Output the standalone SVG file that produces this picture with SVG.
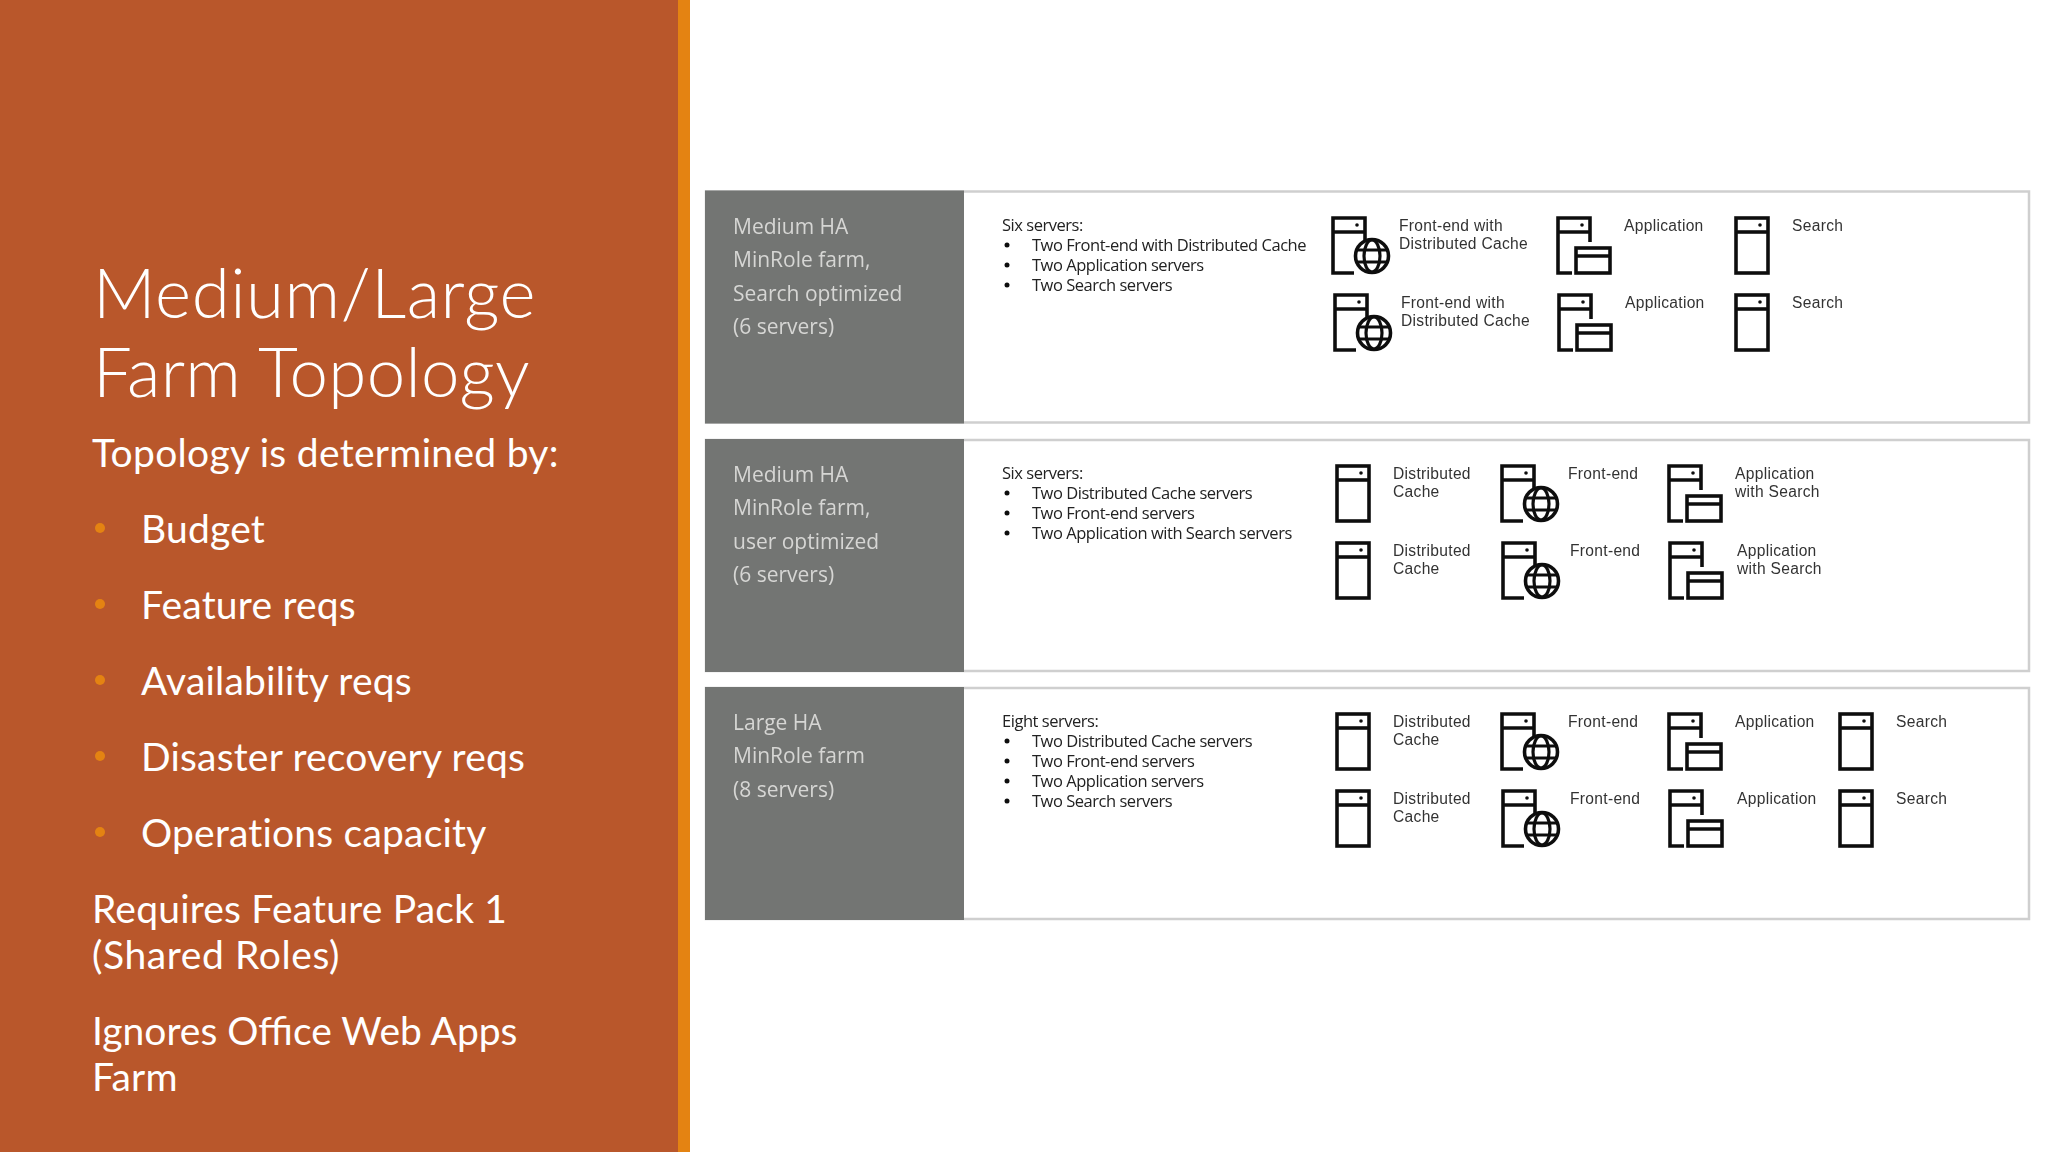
<svg xmlns="http://www.w3.org/2000/svg" width="2048" height="1152" viewBox="0 0 2048 1152">
<style>
.h{font-family:Lato,"Open Sans",sans-serif;fill:#fff}
.t{font-weight:300;font-size:69px;letter-spacing:.55px}
.b{font-size:39px;letter-spacing:.2px}
.g{font-family:"Open Sans",sans-serif;font-size:21px;fill:#d6d6d4}
.d{font-family:"Open Sans",sans-serif;font-size:16.5px;fill:#222;letter-spacing:-.47px}
.l{font-family:"Liberation Sans",Arial,sans-serif;font-size:15.6px;fill:#333;letter-spacing:.3px}
.p{fill:#fff;stroke:#cfcfcf;stroke-width:2.5}
.k{fill:#737573}
.i{fill:none;stroke:#111;stroke-width:3.6}
.n{fill:none;stroke:#111;stroke-width:3.2}
.soft{filter:url(#s)}
</style>
<defs>
<filter id="s" x="-2%" y="-2%" width="104%" height="104%"><feGaussianBlur stdDeviation=".5"/></filter>
<g id="plain"><rect class="i" x="1" y="1" width="32" height="55"/><path class="i" d="M1 15H33"/><circle cx="25" cy="8" r="1.8" fill="#111"/></g>
<g id="globe"><path class="i" d="M22 56H1V1H33V24M1 15H33"/><circle cx="25" cy="8" r="1.8" fill="#111"/><circle class="i" cx="40" cy="39" r="16.500"/><ellipse class="n" cx="40" cy="39" rx="8" ry="16"/><path class="n" d="M24 33H56M24 45H56"/></g>
<g id="app"><path class="i" d="M15 56H1V1H33V25M1 15H33"/><circle cx="25" cy="8" r="1.8" fill="#111"/><rect class="i" x="19" y="31" width="34" height="25"/><path class="i" d="M19 39H53"/></g>
</defs>
<rect width="2048" height="1152" fill="#fff"/>
<g id="sidebar">
<rect width="678" height="1152" fill="#b9572b"/>
<rect x="678" width="12" height="1152" fill="#e48312"/>
<text class="h t" x="93" y="318">Medium/Large</text>
<text class="h t" x="93" y="397" style="letter-spacing:.25px">Farm Topology</text>
<text class="h b" x="92" y="467" style="letter-spacing:.3px">Topology is determined by:</text>
<g fill="#e48312"><circle cx="100" cy="528" r="5"/><circle cx="100" cy="604" r="5"/><circle cx="100" cy="680" r="5"/><circle cx="100" cy="756" r="5"/><circle cx="100" cy="832" r="5"/></g>
<text class="h b" x="141" y="543">Budget</text>
<text class="h b" x="141" y="619">Feature reqs</text>
<text class="h b" x="141" y="695">Availability reqs</text>
<text class="h b" x="141" y="771">Disaster recovery reqs</text>
<text class="h b" x="141" y="847">Operations capacity</text>
<text class="h b" x="92" y="923">Requires Feature Pack 1</text>
<text class="h b" x="92" y="969" style="letter-spacing:.6px">(Shared Roles)</text>
<text class="h b" x="92" y="1045" style="letter-spacing:0">Ignores Office Web Apps</text>
<text class="h b" x="92" y="1091">Farm</text>
</g>
<g id="connectors"/>
<g class="soft">
<g id="panel-1">
<rect class="p" x="706" y="191.500" width="1323" height="231"/><rect class="k" x="705" y="190.500" width="259" height="233"/>
<text class="g" x="733" y="234">Medium HA</text><text class="g" x="733" y="267">MinRole farm,</text><text class="g" x="733" y="301">Search optimized</text><text class="g" x="733" y="334">(6 servers)</text>
<text class="d" x="1002" y="231">Six servers:</text>
<g fill="#111"><circle cx="1007" cy="245" r="2.500"/><circle cx="1007" cy="265" r="2.500"/><circle cx="1007" cy="285" r="2.500"/></g>
<text class="d" x="1032" y="251">Two Front-end with Distributed Cache</text><text class="d" x="1032" y="271">Two Application servers</text><text class="d" x="1032" y="291">Two Search servers</text>
</g>
<g id="p1-fe1"><use href="#globe" x="1332" y="217"/><text class="l" x="1399" y="231">Front-end with</text><text class="l" x="1399" y="249">Distributed Cache</text></g>
<g id="p1-fe2"><use href="#globe" x="1334" y="294"/><text class="l" x="1401" y="308">Front-end with</text><text class="l" x="1401" y="326">Distributed Cache</text></g>
<g id="p1-app1"><use href="#app" x="1557" y="217"/><text class="l" x="1624" y="231">Application</text></g>
<g id="p1-app2"><use href="#app" x="1558" y="294"/><text class="l" x="1625" y="308">Application</text></g>
<g id="p1-se1"><use href="#plain" x="1735" y="217"/><text class="l" x="1792" y="231">Search</text></g>
<g id="p1-se2"><use href="#plain" x="1735" y="294"/><text class="l" x="1792" y="308">Search</text></g>

<g id="panel-2">
<rect class="p" x="706" y="440" width="1323" height="231"/><rect class="k" x="705" y="439" width="259" height="233"/>
<text class="g" x="733" y="482">Medium HA</text><text class="g" x="733" y="515">MinRole farm,</text><text class="g" x="733" y="549">user optimized</text><text class="g" x="733" y="582">(6 servers)</text>
<text class="d" x="1002" y="479">Six servers:</text>
<g fill="#111"><circle cx="1007" cy="493" r="2.500"/><circle cx="1007" cy="513" r="2.500"/><circle cx="1007" cy="533" r="2.500"/></g>
<text class="d" x="1032" y="499">Two Distributed Cache servers</text><text class="d" x="1032" y="519">Two Front-end servers</text><text class="d" x="1032" y="539">Two Application with Search servers</text>
</g>
<g id="p2-dc1"><use href="#plain" x="1336" y="465"/><text class="l" x="1393" y="479">Distributed</text><text class="l" x="1393" y="497">Cache</text></g>
<g id="p2-dc2"><use href="#plain" x="1336" y="542"/><text class="l" x="1393" y="556">Distributed</text><text class="l" x="1393" y="574">Cache</text></g>
<g id="p2-fe1"><use href="#globe" x="1501" y="465"/><text class="l" x="1568" y="479">Front-end</text></g>
<g id="p2-fe2"><use href="#globe" x="1502" y="542"/><text class="l" x="1570" y="556">Front-end</text></g>
<g id="p2-app1"><use href="#app" x="1668" y="465"/><text class="l" x="1735" y="479">Application</text><text class="l" x="1735" y="497">with Search</text></g>
<g id="p2-app2"><use href="#app" x="1669" y="542"/><text class="l" x="1737" y="556">Application</text><text class="l" x="1737" y="574">with Search</text></g>

<g id="panel-3">
<rect class="p" x="706" y="688" width="1323" height="231"/><rect class="k" x="705" y="687" width="259" height="233"/>
<text class="g" x="733" y="730">Large HA</text><text class="g" x="733" y="763">MinRole farm</text><text class="g" x="733" y="797">(8 servers)</text>
<text class="d" x="1002" y="727">Eight servers:</text>
<g fill="#111"><circle cx="1007" cy="741" r="2.500"/><circle cx="1007" cy="761" r="2.500"/><circle cx="1007" cy="781" r="2.500"/><circle cx="1007" cy="801" r="2.500"/></g>
<text class="d" x="1032" y="747">Two Distributed Cache servers</text><text class="d" x="1032" y="767">Two Front-end servers</text><text class="d" x="1032" y="787">Two Application servers</text><text class="d" x="1032" y="807">Two Search servers</text>
</g>
<g id="p3-dc1"><use href="#plain" x="1336" y="713"/><text class="l" x="1393" y="727">Distributed</text><text class="l" x="1393" y="745">Cache</text></g>
<g id="p3-dc2"><use href="#plain" x="1336" y="790"/><text class="l" x="1393" y="804">Distributed</text><text class="l" x="1393" y="822">Cache</text></g>
<g id="p3-fe1"><use href="#globe" x="1501" y="713"/><text class="l" x="1568" y="727">Front-end</text></g>
<g id="p3-fe2"><use href="#globe" x="1502" y="790"/><text class="l" x="1570" y="804">Front-end</text></g>
<g id="p3-app1"><use href="#app" x="1668" y="713"/><text class="l" x="1735" y="727">Application</text></g>
<g id="p3-app2"><use href="#app" x="1669" y="790"/><text class="l" x="1737" y="804">Application</text></g>
<g id="p3-se1"><use href="#plain" x="1839" y="713"/><text class="l" x="1896" y="727">Search</text></g>
<g id="p3-se2"><use href="#plain" x="1839" y="790"/><text class="l" x="1896" y="804">Search</text></g>
</g>
</svg>
